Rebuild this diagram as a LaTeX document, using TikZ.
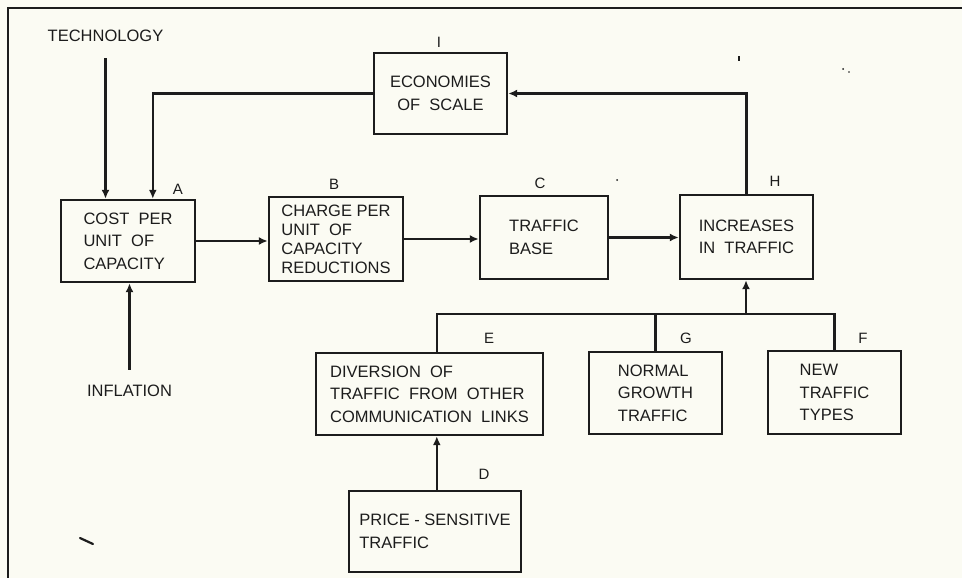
\documentclass[tikz,border=0pt]{standalone}
\usepackage{fontspec}
\setmainfont{Liberation Sans}
\usetikzlibrary{arrows.meta}
\definecolor{paper}{RGB}{251,251,243}
\definecolor{ink}{RGB}{28,28,28}
\begin{document}
\begin{tikzpicture}[x=1pt,y=-1pt,
  box/.style={draw=ink, line width=2.4pt, align=left, inner sep=0pt,
    font=\fontsize{16.5}{22.5}\selectfont, text=ink},
  tag/.style={font=\fontsize{15}{18}\selectfont, text=ink, inner sep=0pt},
  free/.style={font=\fontsize{16.5}{20}\selectfont, text=ink, inner sep=0pt},
  conn/.style={draw=ink, line width=2.1pt},
  arr/.style={conn, -{Latex[length=9pt,width=8pt]}}]
% page and frame
\fill[paper] (0,0) rectangle (962,578);
\useasboundingbox (0,0) rectangle (962,578);
\draw[ink, line width=2.2pt] (8,578) -- (8,8) -- (962,8);

% boxes
\node[box, minimum width=134pt, minimum height=82pt] (A) at (128,241)
  {COST\ \ PER\\UNIT\ \ OF\\CAPACITY};
\node[box, minimum width=134pt, minimum height=84pt,
  font=\fontsize{16.5}{19}\selectfont] (B) at (336,239)
  {CHARGE PER\\UNIT\ \ OF\\CAPACITY\\REDUCTIONS};
\node[box, minimum width=128pt, minimum height=83pt] (C) at (544,237.5)
  {TRAFFIC\\BASE};
\node[box, minimum width=133pt, minimum height=84pt] (H) at (746.5,237)
  {INCREASES\\IN\ \ TRAFFIC};
\node[box, minimum width=133pt, minimum height=81pt, align=center] (I) at (440.5,93.5)
  {ECONOMIES\\OF\ \ SCALE};
\node[box, minimum width=227pt, minimum height=82pt] (E) at (429.5,394)
  {DIVERSION\ \ OF\\TRAFFIC\ \ FROM\ \ OTHER\\COMMUNICATION\ \ LINKS};
\node[box, minimum width=133pt, minimum height=82pt] (G) at (655.5,393)
  {NORMAL\\GROWTH\\TRAFFIC};
\node[box, minimum width=133pt, minimum height=83pt] (F) at (834.5,392.5)
  {NEW\\TRAFFIC\\TYPES};
\node[box, minimum width=172pt, minimum height=81pt] (D) at (435,531.5)
  {PRICE\ -\ SENSITIVE\\TRAFFIC};

% letter tags
\node[tag] (tI) at (439,42) {I};
\node[tag] (tA) at (178,189) {A};
\node[tag] (tB) at (334,184) {B};
\node[tag] (tC) at (540,183) {C};
\node[tag] (tH) at (775,181) {H};
\node[tag] (tE) at (489,338) {E};
\node[tag] (tG) at (686,338) {G};
\node[tag] (tF) at (863,338) {F};
\node[tag] (tD) at (484,474) {D};

% outside influences
\node[free] (tech) at (105.5,36) {TECHNOLOGY};
\node[free] (infl) at (129.5,391) {INFLATION};

% connectors
\coordinate (bar) at (746,314);
\draw[arr, shorten <=16pt] (tech.south) -- (tech.south |- A.north);
\draw[arr, shorten <=15pt] (infl.north) -- (infl.north |- A.south);
\draw[arr] (I.west) -| ([xshift=93pt]A.north west);
\draw[arr] (A.east) -- (A.east -| B.west);
\draw[arr] (B.east) -- (B.east -| C.west);
\draw[arr] (C.east) -- (C.east -| H.west);
\draw[arr] (H.north) |- (I.east);
\draw[conn] ([xshift=122pt]E.north west) |- (F.north |- bar) -- (F.north);
\draw[conn] (G.north) -- (G.north |- bar);
\draw[arr] (bar) -- (bar |- H.south);
\draw[arr] ([xshift=89pt]D.north west) -- ([xshift=122pt]E.south west);

% specks on the sheet
\draw[ink, line width=2.2pt, line cap=round] (80,538) -- (93,544);
\fill[ink] (738,56) rectangle (739.5,61);
\fill[ink] (843,69) circle (1pt);
\fill[ink] (849,72) circle (0.8pt);
\fill[ink] (617,180) circle (1pt);
\end{tikzpicture}
\end{document}
